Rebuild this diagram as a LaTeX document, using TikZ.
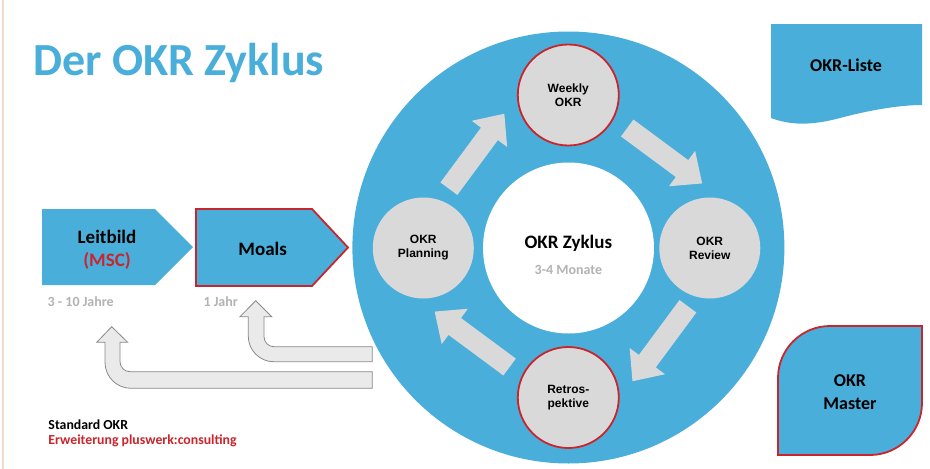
\documentclass[tikz,border=0pt]{standalone}
\usepackage{fontspec}
\setmainfont{Carlito}
\newfontfamily\arialf{Liberation Sans}
\usetikzlibrary{calc}
\definecolor{okrblue}{HTML}{4AAEDB}
\definecolor{okrred}{HTML}{C9252C}
\definecolor{circgray}{HTML}{D9D9D9}
\definecolor{arrgray}{HTML}{D9D9D9}
\definecolor{retfill}{HTML}{EAEAEA}
\definecolor{retline}{HTML}{8A8A8A}
\definecolor{labgray}{HTML}{B3B3B3}
\definecolor{edgebeige}{HTML}{F0DCCB}
\newcommand\cycarrow[3]{%
  \coordinate (#3h) at ($(#2)!25pt!(#1)$);
  \fill[arrgray] ($(#1)!10.5pt!90:(#2)$) -- ($(#3h)!10.5pt!-90:(#1)$) -- ($(#3h)!22pt!-90:(#1)$) -- (#2) -- ($(#3h)!22pt!90:(#1)$) -- ($(#3h)!10.5pt!90:(#1)$) -- ($(#1)!10.5pt!-90:(#2)$) -- cycle;}
\begin{document}
\begin{tikzpicture}[x=1pt,y=-1pt,
  stepc/.style={circle, fill=circgray, minimum size=101, inner sep=0, align=center,
    font=\arialf\bfseries\fontsize{12}{14}\selectfont},
  redrim/.style={draw=okrred, line width=1.8},
  retarrow/.style={fill=retfill, draw=retline, line width=0.8},
  boxtext/.style={font=\bfseries\fontsize{19}{22}\selectfont, inner sep=0, anchor=base},
  graylab/.style={font=\bfseries\fontsize{14}{16}\selectfont, text=labgray, inner sep=0, anchor=base}]
\useasboundingbox (0,0) rectangle (930,469);
\fill[white] (0,0) rectangle (930,469);
\fill[edgebeige] (1.5,0) rectangle (3.5,469);

% title
\node[anchor=base west, font=\bfseries\fontsize{46}{52}\selectfont, text=okrblue, inner sep=0] (title) at (33,75) {Der OKR Zyklus};

% ring
\node[circle, fill=okrblue, minimum size=432, inner sep=0] (ring) at (568.4,247.5) {};
\node[circle, fill=white, minimum size=171, inner sep=0] (core) at (568.5,248) {};
\node[font=\bfseries\fontsize{19}{22}\selectfont, inner sep=0, anchor=base] (zname) at (568.4,248.3) {OKR Zyklus};
\node[graylab] (zdur) at (568.4,274) {3-4 Monate};

% small circles
\node[stepc, redrim] (weekly) at (568.3,95) {Weekly\\OKR};
\node[stepc] (planning) at (423.3,248) {OKR\\Planning};
\node[stepc] (review) at (709.8,248) {OKR\\Review};
\node[stepc, redrim] (retro) at (568.3,397.5) {Retros-\\pektive};

% cycle arrows
\coordinate (a1s) at ($(ring.center)+(-153.8:133.2)$);
\coordinate (a1e) at ($(ring.center)+(-115.6:148.3)$);
\coordinate (a2s) at ($(ring.center)+(-63.8:133.2)$);
\coordinate (a2e) at ($(ring.center)+(-25.6:148.3)$);
\coordinate (a3s) at ($(ring.center)+(26.2:133.2)$);
\coordinate (a3e) at ($(ring.center)+(64.4:148.3)$);
\coordinate (a4s) at ($(ring.center)+(116.2:133.2)$);
\coordinate (a4e) at ($(ring.center)+(154.4:148.3)$);
\cycarrow{a1s}{a1e}{a1}
\cycarrow{a2s}{a2e}{a2}
\cycarrow{a3s}{a3e}{a3}
\cycarrow{a4s}{a4e}{a4}

% Leitbild and Moals
\fill[okrblue] (42,209) -- (155,209) -- (193,247) -- (155,285) -- (42,285) -- cycle;
\node[boxtext] (leitbild) at (107,243.5) {Leitbild};
\node[boxtext, text=okrred] (msc) at (107,266.5) {(MSC)};
\draw[fill=okrblue, draw=okrred, line width=1.8] (196,209) -- (312,209) -- (348,247.5) -- (312,286) -- (196,286) -- cycle;
\node[boxtext] (moals) at (262.7,255) {Moals};
\node[graylab] (jahre) at (80.7,306.7) {3 - 10 Jahre};
\node[graylab] (jahr) at (220.7,306.7) {1 Jahr};

% return arrows
\draw[retarrow] (255.7,300.7) -- (271.7,316.7) -- (264,316.7) -- (264,336.7) .. controls (264,342.2) and (268.5,346.7) .. (274,346.7) -- (372.3,346.7) -- (372.3,361.7) -- (273.7,361.7) .. controls (259.7,361.7) and (248.3,350.3) .. (248.3,336.3) -- (248.3,316.7) -- (240,316.7) -- cycle;
\draw[retarrow] (111.7,326.7) -- (127.7,342.3) -- (120,342.3) -- (120,361.7) .. controls (120,367.2) and (124.5,371.7) .. (130,371.7) -- (372.3,371.7) -- (372.3,388.3) -- (131,388.3) .. controls (116.6,388.3) and (105,376.7) .. (105,362.3) -- (105,342.3) -- (96.7,342.3) -- cycle;

% legend
\node[anchor=base west, inner sep=0, font=\bfseries\fontsize{13.8}{16}\selectfont] (std) at (48.3,429.3) {Standard OKR};
\node[anchor=base west, inner sep=0, font=\bfseries\fontsize{13.8}{16}\selectfont, text=okrred] (ext) at (48.3,444.5) {Erweiterung pluswerk:consulting};

% OKR-Liste
\fill[okrblue] (771,24) -- (922,24) -- (922,105) .. controls (900,105) and (870,110) .. (840,118) .. controls (810,126) and (790,125) .. (771,118) -- cycle;
\node[boxtext, font=\bfseries\fontsize{18}{21}\selectfont] (liste) at (846,71.7) {OKR-Liste};

% OKR Master
\draw[fill=okrblue, draw=okrred, line width=1.8] (778,455) -- (778,378) .. controls (778,349.3) and (801.3,326) .. (830,326) -- (922,326) -- (922,403) .. controls (922,431.7) and (898.7,455) .. (870,455) -- cycle;
\node[boxtext, font=\bfseries\fontsize{18}{21}\selectfont] (master1) at (850,386.7) {OKR};
\node[boxtext, font=\bfseries\fontsize{18}{21}\selectfont] (master2) at (850,409.3) {Master};
\end{tikzpicture}
\end{document}
